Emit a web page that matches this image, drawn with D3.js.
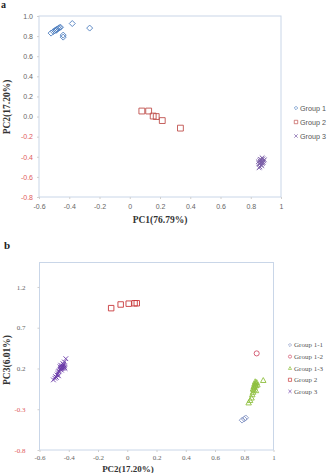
<!DOCTYPE html>
<html>
<head>
<meta charset="utf-8">
<script src="https://cdn.jsdelivr.net/npm/d3@7"></script>
<style>
  html, body { margin: 0; padding: 0; background: #fff; }
  svg { display: block; }
  .frame { fill: none; stroke: #c9d6e8; stroke-width: 1; }
  .axis path { display: none; }
  .axis line { stroke: #d0d0d0; }
</style>
</head>
<body>
<div id="chart"></div>
<script>
// Panel a: PC1 vs PC2
const ticksAX = [-0.6, -0.4, -0.2, 0, 0.2, 0.4, 0.6, 0.8, 1];
const ticksAXLabels = ['-0.6', '-0.4', '-0.2', '0', '0.2', '0.4', '0.6', '0.8', '1'];
const ticksAY = [1.0, 0.8, 0.6, 0.4, 0.2, 0.0, -0.2, -0.4, -0.6, -0.8];
const ticksAYLabels = ['1.0', '0.8', '0.6', '0.4', '0.2', '0.0', '-0.2', '-0.4', '-0.6', '-0.8'];

const a_group1 = [
  [-0.52, 0.83], [-0.505, 0.845], [-0.495, 0.855], [-0.488, 0.862], [-0.48, 0.87],
  [-0.472, 0.878], [-0.465, 0.884], [-0.458, 0.888], [-0.485, 0.858],
  [-0.44, 0.81], [-0.44, 0.79], [-0.38, 0.925], [-0.265, 0.88]
];
const a_group2 = [
  [0.08, 0.055], [0.125, 0.055], [0.155, 0.005], [0.175, 0.0], [0.215, -0.04], [0.335, -0.115]
];
const a_group3 = [
  [0.86, -0.44], [0.87, -0.43], [0.875, -0.45], [0.865, -0.46], [0.88, -0.42],
  [0.855, -0.47], [0.87, -0.48], [0.885, -0.44], [0.86, -0.50], [0.875, -0.41],
  [0.89, -0.43], [0.85, -0.45], [0.868, -0.455], [0.878, -0.465], [0.862, -0.425],
  [0.872, -0.49], [0.855, -0.51], [0.882, -0.455]
];
const a_legend = ['Group 1', 'Group 2', 'Group 3'];

// Panel b: PC2 vs PC3
const ticksBX = [-0.6, -0.4, -0.2, 0, 0.2, 0.4, 0.6, 0.8, 1];
const ticksBXLabels = ['-0.6', '-0.4', '-0.2', '0', '0.2', '0.4', '0.6', '0.8', '1'];
const ticksBY = [1.2, 0.7, 0.2, -0.3, -0.8];
const ticksBYLabels = ['1.2', '0.7', '0.2', '-0.3', '-0.8'];

const b_group11 = [[0.785, -0.435], [0.80, -0.42], [0.81, -0.405]];
const b_group12 = [[0.885, 0.385]];
const b_group13 = [
  [0.83, -0.22], [0.84, -0.19], [0.85, -0.16], [0.855, -0.12], [0.86, -0.09],
  [0.865, -0.06], [0.87, -0.03], [0.875, 0.0], [0.878, 0.02], [0.88, -0.01],
  [0.885, 0.03], [0.87, 0.01], [0.865, -0.02], [0.86, -0.05], [0.88, -0.07],
  [0.89, 0.0], [0.93, 0.055], [0.875, 0.04]
];
const b_group2 = [[-0.11, 0.94], [-0.045, 0.985], [0.01, 0.995], [0.05, 1.0], [0.065, 1.0]];
const b_group3 = [
  [-0.505, 0.06], [-0.495, 0.08], [-0.49, 0.1], [-0.48, 0.12], [-0.475, 0.14],
  [-0.47, 0.16], [-0.465, 0.17], [-0.46, 0.19], [-0.455, 0.2], [-0.45, 0.21],
  [-0.445, 0.22], [-0.44, 0.23], [-0.435, 0.25], [-0.43, 0.28], [-0.42, 0.32],
  [-0.45, 0.18], [-0.44, 0.2], [-0.43, 0.21], [-0.46, 0.22], [-0.455, 0.24],
  [-0.425, 0.2], [-0.47, 0.11], [-0.485, 0.09], [-0.44, 0.26], [-0.43, 0.23]
];
const b_legend = ['Group 1-1', 'Group 1-2', 'Group 1-3', 'Group 2', 'Group 3'];

const W = 332, H = 473;
const svg = d3.select('#chart').append('svg').attr('width', W).attr('height', H);

// custom marker shapes
const diamond = { draw(c, s) { const r = Math.sqrt(s) / 2; c.moveTo(0, -r); c.lineTo(r, 0); c.lineTo(0, r); c.lineTo(-r, 0); c.closePath(); } };
const square = { draw(c, s) { const r = Math.sqrt(s) / 2; c.rect(-r, -r, 2 * r, 2 * r); } };
const times = { draw(c, s) { const r = Math.sqrt(s) / 2; c.moveTo(-r, -r); c.lineTo(r, r); c.moveTo(r, -r); c.lineTo(-r, r); } };
const circle = { draw(c, s) { const r = Math.sqrt(s) / 2; c.moveTo(r, 0); c.arc(0, 0, r, 0, 2 * Math.PI); } };
const triangle = { draw(c, s) { const r = Math.sqrt(s) / 2; c.moveTo(0, -r); c.lineTo(r, r * 0.8); c.lineTo(-r, r * 0.8); c.closePath(); } };

function panel(opt) {
  const x = d3.scaleLinear().domain(opt.xDomain).range(opt.xRange);
  const y = d3.scaleLinear().domain(opt.yDomain).range(opt.yRange);
  const g = svg.append('g');

  g.append('rect').attr('class', 'frame')
    .attr('x', opt.xRange[0]).attr('y', opt.yRange[1])
    .attr('width', opt.xRange[1] - opt.xRange[0]).attr('height', opt.yRange[0] - opt.yRange[1]);

  const xa = g.append('g').attr('class', 'axis')
    .attr('transform', `translate(0,${opt.yRange[0]})`)
    .call(d3.axisBottom(x).tickValues(opt.xTicks).tickSize(2)
      .tickFormat((d, i) => opt.xLabels[i]));
  xa.selectAll('text').attr('fill', '#666').attr('font-size', opt.tickSize)
    .attr('font-family', opt.tickFont).attr('dy', opt.xDy);

  const ya = g.append('g').attr('class', 'axis')
    .attr('transform', `translate(${opt.xRange[0]},0)`)
    .call(d3.axisLeft(y).tickValues(opt.yTicks).tickSize(2)
      .tickFormat((d, i) => opt.yLabels[i]));
  ya.selectAll('text').attr('fill', (d) => d < 0 ? '#e05a5a' : '#666')
    .attr('font-size', opt.tickSize).attr('font-family', opt.tickFont).attr('x', -opt.yPad);

  g.append('text').attr('x', opt.xTitle[0]).attr('y', opt.xTitle[1])
    .attr('text-anchor', 'middle').attr('font-family', 'Liberation Serif, serif')
    .attr('font-weight', 'bold').attr('font-size', opt.titleSize).attr('fill', '#333')
    .text(opt.xLabel);
  g.append('text')
    .attr('transform', `translate(${opt.yTitle[0]},${opt.yTitle[1]}) rotate(-90)`)
    .attr('text-anchor', 'middle').attr('font-family', 'Liberation Serif, serif')
    .attr('font-weight', 'bold').attr('font-size', 9.5).attr('fill', '#333')
    .text(opt.yLabel);

  opt.series.forEach((s) => {
    g.append('g').selectAll('path').data(s.data).join('path')
      .attr('transform', (d) => `translate(${x(d[0])},${y(d[1])})`)
      .attr('d', d3.symbol().type(s.shape).size(s.size))
      .attr('fill', 'none').attr('stroke', s.color).attr('stroke-width', s.sw || 0.9);
  });

  const lg = g.append('g');
  opt.legend.forEach((name, i) => {
    const s = opt.series[i];
    const ly = opt.legendPos[1] + i * opt.legendStep;
    lg.append('path')
      .attr('transform', `translate(${opt.legendPos[0]},${ly})`)
      .attr('d', d3.symbol().type(s.shape).size(opt.legendSym))
      .attr('fill', 'none').attr('stroke', s.color).attr('stroke-width', 0.7);
    lg.append('text').attr('x', opt.legendPos[0] + 4).attr('y', ly)
      .attr('dy', '0.35em').attr('font-size', opt.legendFontSize)
      .attr('font-family', opt.legendFont).attr('fill', '#555').text(name);
  });
}

svg.append('text').attr('x', 1).attr('y', 8).attr('font-family', 'Liberation Serif, serif')
  .attr('font-weight', 'bold').attr('font-size', 10).attr('fill', '#222').text('a');
svg.append('text').attr('x', 4).attr('y', 249).attr('font-family', 'Liberation Serif, serif')
  .attr('font-weight', 'bold').attr('font-size', 11).attr('fill', '#222').text('b');

panel({
  xDomain: [-0.6, 1], xRange: [39, 281],
  yDomain: [-0.8, 1.0], yRange: [197, 16],
  xTicks: ticksAX, xLabels: ticksAXLabels, yTicks: ticksAY, yLabels: ticksAYLabels,
  tickSize: 7, tickFont: 'Liberation Sans, Arial, sans-serif', yPad: 6, xDy: '0.95em',
  xLabel: 'PC1(76.79%)', xTitle: [160, 223], titleSize: 9.5,
  yLabel: 'PC2(17.20%)', yTitle: [10, 107],
  series: [
    { data: a_group1, shape: diamond, size: 36, color: '#4f7fbf' },
    { data: a_group2, shape: square, size: 34, color: '#c0504d' },
    { data: a_group3, shape: times, size: 22, color: '#7b5ea7' }
  ],
  legend: a_legend, legendPos: [296, 108], legendStep: 14, legendSym: 12,
  legendFontSize: 7.2, legendFont: 'Liberation Sans, Arial, sans-serif'
});

panel({
  xDomain: [-0.6, 1], xRange: [39.5, 273.5],
  yDomain: [-0.8, 1.5], yRange: [450, 262.5],
  xTicks: ticksBX, xLabels: ticksBXLabels, yTicks: ticksBY, yLabels: ticksBYLabels,
  tickSize: 7, tickFont: 'Liberation Serif, serif', yPad: 14, xDy: '0.7em',
  xLabel: 'PC2(17.20%)', xTitle: [128, 471.5], titleSize: 9,
  yLabel: 'PC3(6.01%)', yTitle: [10, 360],
  series: [
    { data: b_group11, shape: diamond, size: 32, color: '#8394c4' },
    { data: b_group12, shape: circle, size: 26, color: '#d0506a' },
    { data: b_group13, shape: triangle, size: 30, color: '#8fc040' },
    { data: b_group2, shape: square, size: 30, color: '#c8393b' },
    { data: b_group3, shape: times, size: 22, color: '#6a3aa8' }
  ],
  legend: b_legend, legendPos: [290, 345], legendStep: 11.6, legendSym: 10,
  legendFontSize: 7, legendFont: 'Liberation Serif, serif'
});
</script>
</body>
</html>
